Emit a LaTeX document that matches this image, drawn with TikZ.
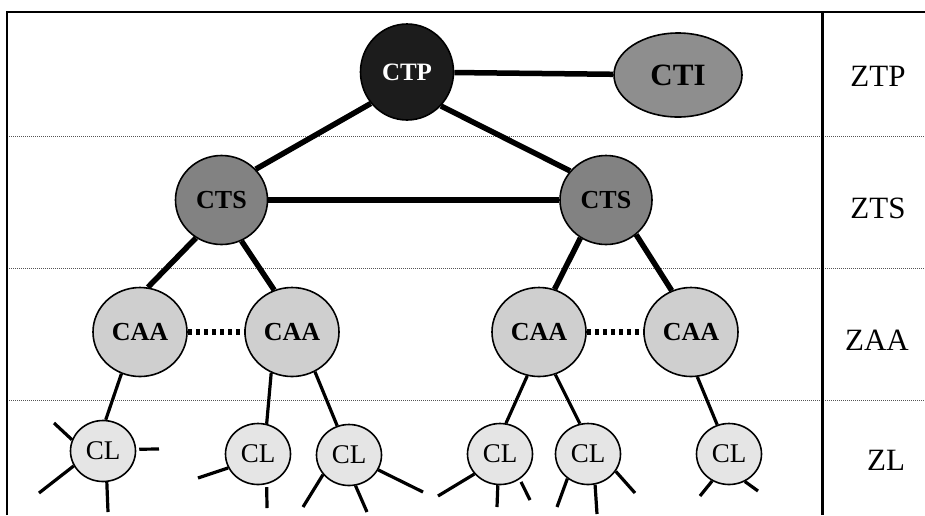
\documentclass[tikz,border=0pt]{standalone}
\usepackage{fontspec}
\setmainfont{Liberation Serif}
\usetikzlibrary{shapes.geometric}
\definecolor{ctpfill}{HTML}{1C1C1C}
\definecolor{ctifill}{HTML}{8E8E8E}
\definecolor{ctsfill}{HTML}{828282}
\definecolor{caafill}{HTML}{CFCFCF}
\definecolor{clfill}{HTML}{E5E5E5}
\definecolor{sepgray}{HTML}{555555}
\tikzset{
  nodebase/.style={ellipse, draw=black, line width=1.6pt, inner sep=0pt},
  ctpnode/.style={nodebase, fill=ctpfill, text=white, minimum width=93pt, minimum height=96pt, font=\fontsize{25}{25}\selectfont\bfseries},
  ctinode/.style={nodebase, fill=ctifill, minimum width=128pt, minimum height=84pt, font=\fontsize{31}{31}\selectfont\bfseries},
  ctsnode/.style={nodebase, fill=ctsfill, minimum width=92pt, minimum height=89pt, font=\fontsize{26}{26}\selectfont\bfseries},
  caanode/.style={nodebase, fill=caafill, minimum width=94pt, minimum height=89pt, font=\fontsize{26}{26}\selectfont\bfseries},
  clnode/.style={nodebase, fill=clfill, minimum width=65pt, minimum height=61pt, font=\fontsize{27}{27}\selectfont},
  zonelabel/.style={inner sep=0pt, font=\fontsize{31}{31}\selectfont},
  heavylink/.style={line width=5.5pt},
  dotlink/.style={line width=5.5pt, dash pattern=on 4.5pt off 3.5pt},
  leaflink/.style={line width=3.2pt},
  stray/.style={line width=3.2pt},
  framerule/.style={line width=2.6pt},
  seprule/.style={line width=0.8pt, draw=sepgray, dash pattern=on 1pt off 1pt},
}
\begin{document}
\begin{tikzpicture}[x=1pt,y=-1pt]
\useasboundingbox (0,0) rectangle (925,515);
% frame and zone separators
\draw[seprule] (7,136) -- (925,136);
\draw[seprule] (7,268) -- (925,268);
\draw[seprule] (7,400) -- (925,400);
\draw[framerule] (7,515) -- (7,12) -- (925,12);
\draw[line width=3pt] (822,12) -- (822,515);
% zone labels
\node[zonelabel] (zTP) at (878,76) {ZTP};
\node[zonelabel] (zTS) at (878,208) {ZTS};
\node[zonelabel] (zAA) at (877,340) {ZAA};
\node[zonelabel] (zL) at (886,460) {ZL};
% nodes
\node[ctpnode] (CTP) at (407,72) {CTP};
\node[ctinode] (CTI) at (678,75) {CTI};
\node[ctsnode] (CTSl) at (221.5,200) {CTS};
\node[ctsnode] (CTSr) at (606,200) {CTS};
\node[caanode] (CAA1) at (140,332) {CAA};
\node[caanode] (CAA2) at (292,332) {CAA};
\node[caanode] (CAA3) at (539,332) {CAA};
\node[caanode] (CAA4) at (691,332) {CAA};
\node[clnode] (CL1) at (103,451) {CL};
\node[clnode] (CL2) at (258,454) {CL};
\node[clnode] (CL3) at (349,455) {CL};
\node[clnode] (CL4) at (500,454) {CL};
\node[clnode] (CL5) at (588,454) {CL};
\node[clnode] (CL6) at (729,454) {CL};
% heavy links
\draw[heavylink] (CTP) -- (CTI);
\draw[heavylink] (CTP.221) -- (CTSl.42);
\draw[heavylink] (CTP.315) -- (CTSr.141);
\draw[heavylink] (CTSl) -- (CTSr);
\draw[heavylink] (CTSl.236) -- (CAA1.80);
\draw[heavylink] (CTSl.296) -- (CAA2.113);
\draw[heavylink] (CTSr.236) -- (CAA3.70);
\draw[heavylink] (CTSr.311) -- (CAA4.115);
\draw[dotlink] (CAA1.east) -- (CAA2.west);
\draw[dotlink] (CAA3.east) -- (CAA4.west);
% leaf links
\draw[leaflink] (CAA1.246) -- (CL1.85);
\draw[leaflink] (CAA2.243) -- (CL2.74);
\draw[leaflink] (CAA2.300) -- (CL3.112);
\draw[leaflink] (CAA3.255) -- (CL4.79);
\draw[leaflink] (CAA3.291) -- (CL5.105);
\draw[leaflink] (CAA4.278) -- (CL6.112);
% free ends of the stray links
\coordinate (e1a) at (54,423);
\coordinate (e1b) at (159,449);
\coordinate (e1c) at (39,493);
\coordinate (e1d) at (108,512);
\coordinate (e2a) at (198,478);
\coordinate (e2b) at (267,508);
\coordinate (e3a) at (303,507);
\coordinate (e3b) at (367,512);
\coordinate (e3c) at (423,492);
\coordinate (e4a) at (438,496);
\coordinate (e4b) at (497,507);
\coordinate (e4c) at (530,500);
\coordinate (e5a) at (557,507);
\coordinate (e5b) at (597,514);
\coordinate (e5c) at (635,493);
\coordinate (e6a) at (700,496);
\coordinate (e6b) at (758,491);
\draw[stray] (CL1.160) -- (e1a);
\draw[stray, shorten <=3pt] (CL1.3) -- (e1b);
\draw[stray] (CL1.207) -- (e1c);
\draw[stray] (CL1.277) -- (e1d);
\draw[stray] (CL2.205) -- (e2a);
\draw[stray, shorten <=3pt] (CL2.286) -- (e2b);
\draw[stray] (CL3.217) -- (e3a);
\draw[stray] (CL3.282) -- (e3b);
\draw[stray] (CL3.333) -- (e3c);
\draw[stray] (CL4.218) -- (e4a);
\draw[stray] (CL4.266) -- (e4b);
\draw[stray, shorten <=3pt] (CL4.308) -- (e4c);
\draw[stray] (CL5.230) -- (e5a);
\draw[stray] (CL5.283) -- (e5b);
\draw[stray] (CL5.328) -- (e5c);
\draw[stray] (CL6.238) -- (e6a);
\draw[stray] (CL6.300) -- (e6b);
\end{tikzpicture}
\end{document}
